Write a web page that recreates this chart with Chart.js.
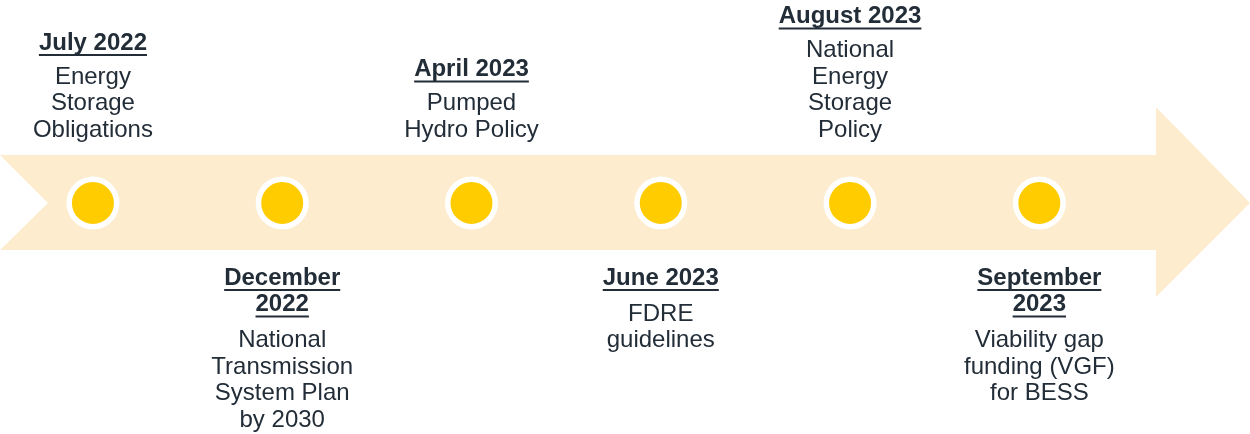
<!DOCTYPE html>
<html>
<head>
<meta charset="utf-8">
<script src="https://cdn.jsdelivr.net/npm/chart.js@4"></script>
<style>
  body { margin: 0; background: #fff; }
  #wrap { width: 1250px; height: 434px; }
</style>
</head>
<body>
<div id="wrap"><canvas id="timeline" width="1250" height="434"></canvas></div>
<script>
// milestones, left to right
var dates = ['July 2022', 'December 2022', 'April 2023', 'June 2023', 'August 2023', 'September 2023'];
var titleLines = [['July 2022'], ['December', '2022'], ['April 2023'], ['June 2023'], ['August 2023'], ['September', '2023']];
var bodyLines = [
  ['Energy', 'Storage', 'Obligations'],
  ['National', 'Transmission', 'System Plan', 'by 2030'],
  ['Pumped', 'Hydro Policy'],
  ['FDRE', 'guidelines'],
  ['National', 'Energy', 'Storage', 'Policy'],
  ['Viability gap', 'funding (VGF)', 'for BESS']
];
var sides = ['top', 'bottom', 'top', 'bottom', 'top', 'bottom'];

var textColor = '#222d38';
var fontName = 'Arial, "Liberation Sans", sans-serif';

var points = [];
for (var i = 0; i < dates.length; i++) {
  points.push({x: i, y: 203});
}

// draws the pale arrow behind the dots
var arrowPlugin = {
  id: 'arrow',
  beforeDatasetsDraw: function(chart) {
    var ctx = chart.ctx;
    var xs = chart.scales.x, ys = chart.scales.y;
    var left = xs.getPixelForValue(xs.min);
    var right = xs.getPixelForValue(xs.max);
    var mid = ys.getPixelForValue(203);
    var top = ys.getPixelForValue(155), bot = ys.getPixelForValue(250);
    var headTop = ys.getPixelForValue(107), headBot = ys.getPixelForValue(297);
    var headX = right - 94;
    ctx.save();
    ctx.fillStyle = '#fdecce';
    ctx.beginPath();
    ctx.moveTo(left, top);
    ctx.lineTo(headX, top);
    ctx.lineTo(headX, headTop);
    ctx.lineTo(right, mid);
    ctx.lineTo(headX, headBot);
    ctx.lineTo(headX, bot);
    ctx.lineTo(left, bot);
    ctx.lineTo(left + 48, mid);
    ctx.closePath();
    ctx.fill();
    ctx.restore();
  }
};

// milestone captions above / below the arrow
var labelPlugin = {
  id: 'labels',
  afterDatasetsDraw: function(chart) {
    var ctx = chart.ctx;
    var meta = chart.getDatasetMeta(0);
    var lh = 26.5;
    ctx.save();
    ctx.fillStyle = textColor;
    ctx.strokeStyle = textColor;
    ctx.textAlign = 'center';
    ctx.textBaseline = 'middle';
    for (var i = 0; i < meta.data.length; i++) {
      var px = meta.data[i].x, py = meta.data[i].y;
      var t = titleLines[i], b = bodyLines[i];
      var titleY = [], bodyY = [];
      var j;
      if (sides[i] == 'top') {
        var lastBody = py - 73;
        for (j = 0; j < b.length; j++) bodyY.push(lastBody - (b.length - 1 - j) * lh);
        var lastTitle = bodyY[0] - 34;
        for (j = 0; j < t.length; j++) titleY.push(lastTitle - (t.length - 1 - j) * lh);
      } else {
        var firstTitle = py + 75;
        for (j = 0; j < t.length; j++) titleY.push(firstTitle + j * lh);
        var firstBody = titleY[t.length - 1] + 36;
        for (j = 0; j < b.length; j++) bodyY.push(firstBody + j * lh);
      }
      ctx.font = 'bold 24px ' + fontName;
      for (j = 0; j < t.length; j++) {
        ctx.fillText(t[j], px, titleY[j]);
        var w = ctx.measureText(t[j]).width;
        ctx.lineWidth = 2;
        ctx.beginPath();
        ctx.moveTo(px - w / 2, titleY[j] + 12);
        ctx.lineTo(px + w / 2, titleY[j] + 12);
        ctx.stroke();
      }
      ctx.font = '24px ' + fontName;
      for (j = 0; j < b.length; j++) {
        ctx.fillText(b[j], px, bodyY[j]);
      }
    }
    ctx.restore();
  }
};

var chart = new Chart(document.getElementById('timeline'), {
  type: 'scatter',
  data: {
    datasets: [{
      label: 'Milestones',
      data: points,
      pointRadius: 23.75,
      pointHoverRadius: 23.75,
      backgroundColor: '#ffcc00',
      borderColor: '#ffffff',
      borderWidth: 5.5,
      pointHoverBorderWidth: 5.5,
      clip: false
    }]
  },
  options: {
    responsive: false,
    animation: false,
    layout: { padding: 0, autoPadding: false },
    plugins: {
      legend: { display: false },
      tooltip: { enabled: false }
    },
    scales: {
      x: { type: 'linear', min: -0.491, max: 6.113, display: false },
      y: { type: 'linear', min: 0, max: 434, reverse: true, display: false }
    }
  },
  plugins: [arrowPlugin, labelPlugin]
});
</script>
</body>
</html>
